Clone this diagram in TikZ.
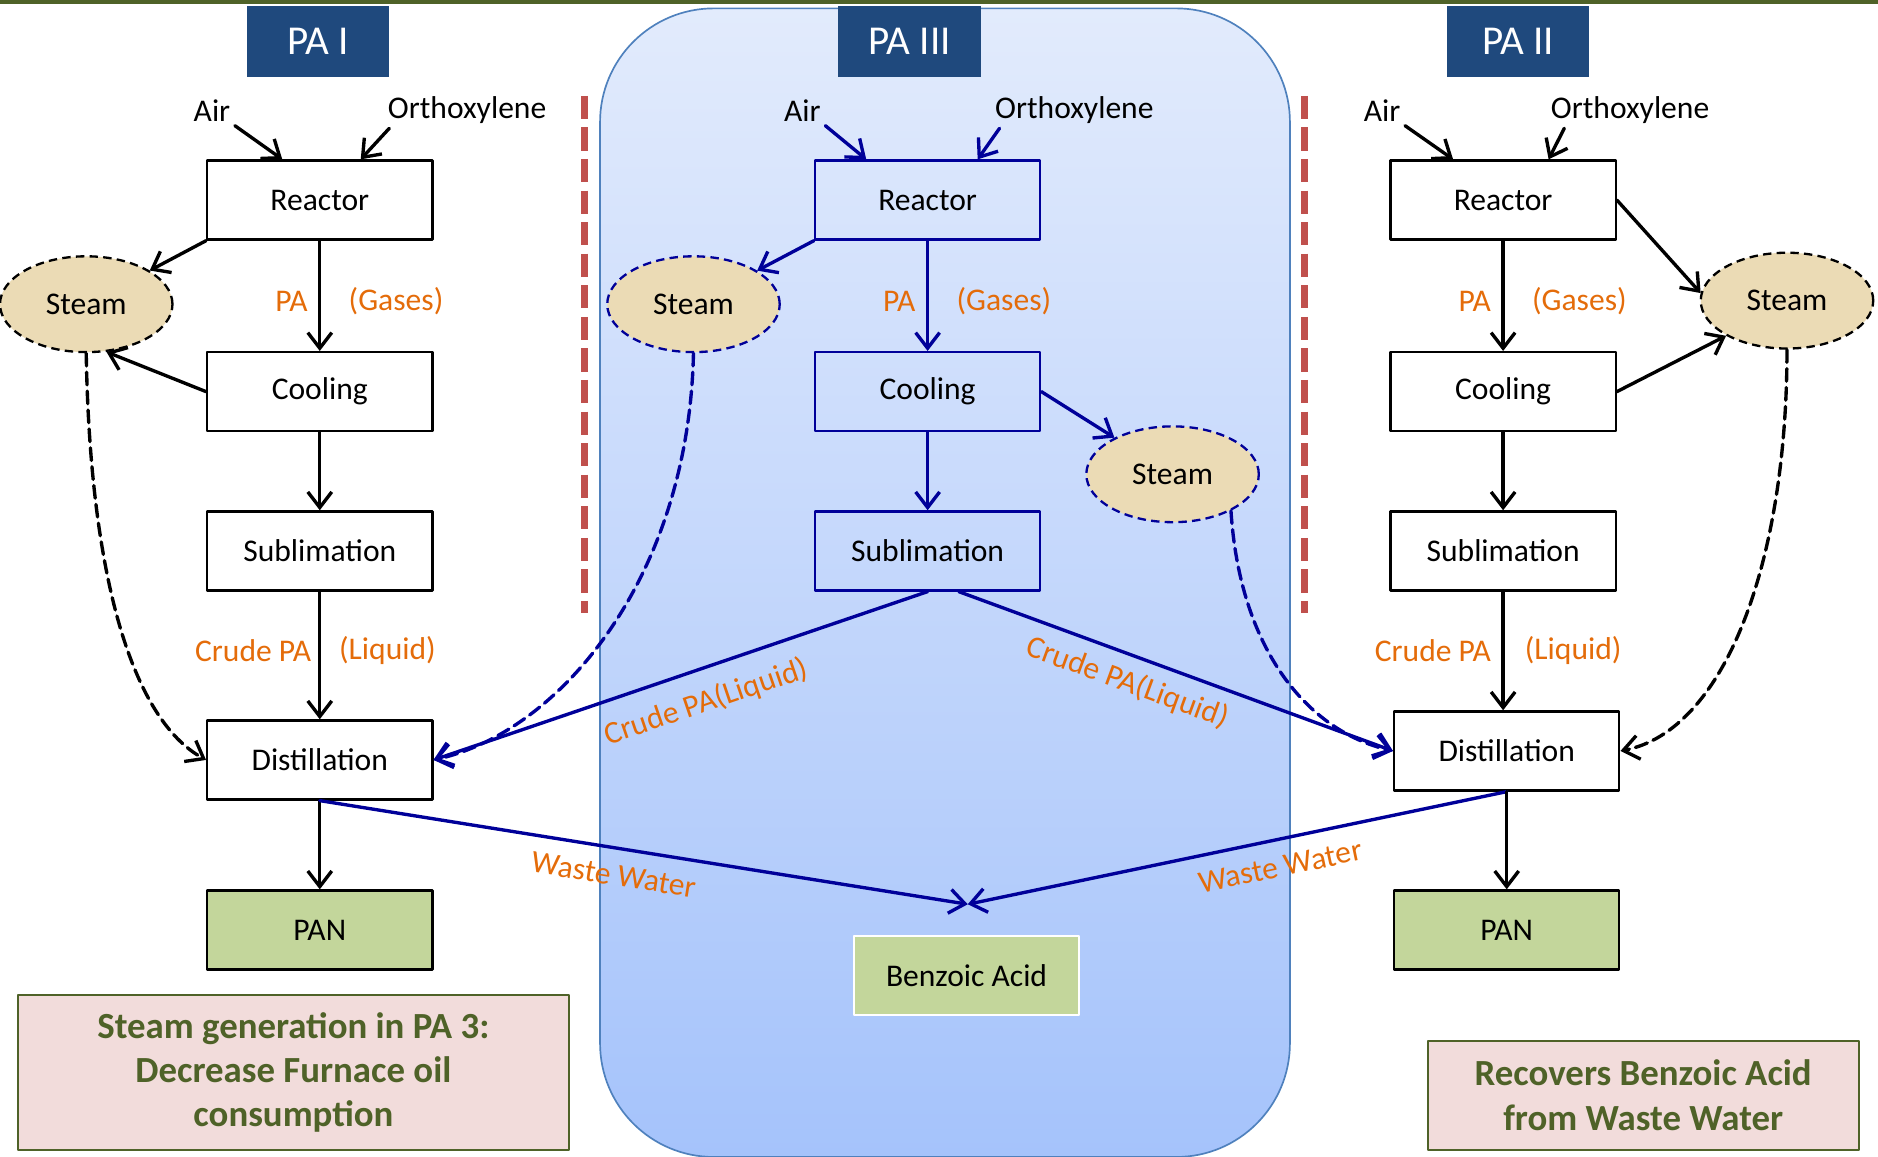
\documentclass[tikz,border=0pt]{standalone}
\usepackage{fontspec}
\setmainfont{Carlito}
\usetikzlibrary{arrows.meta,calc,shapes.geometric}
\definecolor{paNavy}{HTML}{000099}
\definecolor{paTitle}{HTML}{1F497D}
\definecolor{paOrange}{HTML}{E46C0A}
\definecolor{paOlive}{HTML}{4F6228}
\definecolor{paGreen}{HTML}{C3D69B}
\definecolor{paPink}{HTML}{F2DCDB}
\definecolor{paSteam}{HTML}{EBDBB5}
\definecolor{paRed}{HTML}{C0504D}
\definecolor{paFrame}{HTML}{4F81BD}
\definecolor{paTop}{HTML}{E2EBFC}
\definecolor{paBottom}{HTML}{A5C3FB}
\tikzset{
  pa diagram/.style={x=0.2mm, y=-0.2mm, font=\fontsize{15}{18}\selectfont,
    line join=round},
  pa box/.style={draw=black, fill=white, line width=1.1pt,
    minimum width=37.6mm, minimum height=13.2mm, inner sep=0pt},
  pa blue box/.style={pa box, draw=paNavy, fill=none},
  pa product/.style={pa box, fill=paGreen},
  pa title/.style={fill=paTitle, text=white, minimum width=23.8mm,
    minimum height=11.8mm, font=\fontsize{19.5}{22}\selectfont},
  pa text/.style={inner sep=2pt},
  pa steam/.style={ellipse, draw=black, dash pattern=on 4pt off 2.5pt,
    fill=paSteam, line width=1.1pt, minimum width=28.8mm,
    minimum height=16mm, inner sep=0pt},
  pa blue steam/.style={pa steam, draw=paNavy},
  pa arrow/.style={-{Straight Barb[length=2.6mm,width=4mm]},
    line width=1.6pt, line cap=round},
  pa blue arrow/.style={pa arrow, draw=paNavy},
  pa return/.style={pa arrow, dash pattern=on 6pt off 3pt},
  pa blue return/.style={pa blue arrow, dash pattern=on 6pt off 3pt},
  pa label/.style={text=paOrange, inner sep=1pt},
  pa divider/.style={draw=paRed, line width=3.4pt, dash pattern=on 11pt off 4pt},
  pa note/.style={draw=paOlive, fill=paPink, line width=0.9pt, text=paOlive,
    font=\fontsize{17.5}{21}\selectfont\bfseries, align=center}
}
\begin{document}
\begin{tikzpicture}[pa diagram]
\useasboundingbox (0,0) rectangle (1568,966);
\fill[paOlive] (0,0) rectangle (1568,3);
% PA III panel and dividers
\draw[draw=paFrame, line width=0.8pt, top color=paTop, bottom color=paBottom,
  rounded corners=19mm] (501,7) rectangle (1077,966);
\draw[pa divider] (488,80) -- (488,512);
\draw[pa divider] (1089,80) -- (1089,512);

% PA I
\node[pa title] (t1) at (265.5,34.5) {PA I};
\node[pa text] (air1) at (177,92) {Air};
\node[pa text] (ox1) at (390,92) {Orthoxylene};
\node[pa box] (r1) at (267,167) {Reactor};
\node[pa steam] (s1) at (72,254) {Steam};
\node[pa box] (c1) at (267,327) {Cooling};
\node[pa box] (u1) at (267,460) {Sublimation};
\node[pa box] (d1) at (267,634.5) {Distillation};
\node[pa product] (p1) at (267,776.5) {PAN};
\node[pa note, minimum width=92mm, minimum height=25.8mm] (n1) at (245,895.5)
  {Steam generation in PA 3:\\Decrease Furnace oil\\consumption};

% PA III
\node[pa title] (t3) at (759.5,34.5) {PA III};
\node[pa text] (air3) at (670,92) {Air};
\node[pa text] (ox3) at (897,92) {Orthoxylene};
\node[pa blue box] (r3) at (774.5,167) {Reactor};
\node[pa blue steam] (s3) at (579,254) {Steam};
\node[pa blue box] (c3) at (774.5,327) {Cooling};
\node[pa blue steam] (v3) at (979,396) {Steam};
\node[pa blue box] (u3) at (774.5,460) {Sublimation};
\node[pa product, draw=white] (b3) at (807,814.5) {Benzoic Acid};
\coordinate (w3) at (808,755);

% PA II
\node[pa title] (t2) at (1267.5,34.5) {PA II};
\node[pa text] (air2) at (1154,92) {Air};
\node[pa text] (ox2) at (1361,92) {Orthoxylene};
\node[pa box] (r2) at (1255,167) {Reactor};
\node[pa steam] (s2) at (1492,251) {Steam};
\node[pa box] (c2) at (1255,327) {Cooling};
\node[pa box] (u2) at (1255,460) {Sublimation};
\node[pa box] (d2) at (1258,627) {Distillation};
\node[pa product] (p2) at (1258,776.5) {PAN};
\node[pa note, minimum width=72mm, minimum height=18.2mm] (n2) at (1372,914.5)
  {Recovers Benzoic Acid\\from Waste Water};

% PA I flows
\draw[pa arrow] (air1.south east) -- ($(r1.north west)!0.335!(r1.north east)$);
\draw[pa arrow] ([xshift=1mm]ox1.south west) -- ($(r1.north west)!0.68!(r1.north east)$);
\draw[pa arrow] (r1.south west) -- (s1);
\draw[pa arrow] (r1) -- (c1)
  node[pa label, pos=0.55, left=1.4mm] {PA}
  node[pa label, pos=0.55, right=4.2mm] {(Gases)};
\draw[pa arrow] (c1.west) -- (s1.-67);
\draw[pa arrow] (c1) -- (u1);
\draw[pa arrow] (u1) -- (d1)
  node[pa label, pos=0.46, left=0.8mm] {Crude PA}
  node[pa label, pos=0.46, right=2.6mm] {(Liquid)};
\draw[pa return] (s1.south) .. controls (75,480) and (110,600) .. (d1.west);
\draw[pa arrow] (d1) -- (p1);

% PA III flows
\draw[pa blue arrow] (air3.south east) -- ($(r3.north west)!0.23!(r3.north east)$);
\draw[pa blue arrow] ([xshift=1.5mm]ox3.south west) -- ($(r3.north west)!0.72!(r3.north east)$);
\draw[pa blue arrow] (r3.south west) -- (s3);
\draw[pa blue arrow] (r3) -- (c3)
  node[pa label, pos=0.55, left=1.4mm] {PA}
  node[pa label, pos=0.55, right=4.2mm] {(Gases)};
\draw[pa blue arrow] (c3.east) -- (v3);
\draw[pa blue arrow] (c3) -- (u3);
\draw[pa blue arrow] (u3.south) -- (d1.east)
  node[pa label, sloped, below=2.6mm, pos=0.47] {Crude PA(Liquid)};
\draw[pa blue arrow] ($(u3.south)+(26,0)$) -- (d2.west)
  node[pa label, sloped, below=1.6mm, pos=0.41] {Crude PA(Liquid)};
\draw[pa blue return] (s3.south) .. controls (575,480) and (470,610) .. (d1.east);
\draw[pa blue return] (v3.-32) .. controls (1035,540) and (1090,610) .. (d2.west);
\draw[pa blue arrow] (d1.south) -- (w3)
  node[pa label, sloped, below=2.2mm, pos=0.46] {Waste Water};
\draw[pa blue arrow] (d2.south) -- (w3)
  node[pa label, sloped, below=2.2mm, pos=0.43] {Waste Water};

% PA II flows
\draw[pa arrow] (air2.south east) -- ($(r2.north west)!0.28!(r2.north east)$);
\draw[pa arrow] ([xshift=3mm]ox2.south west) -- ($(r2.north west)!0.70!(r2.north east)$);
\draw[pa arrow] (r2.east) -- (s2.175);
\draw[pa arrow] (r2) -- (c2)
  node[pa label, pos=0.55, left=1.4mm] {PA}
  node[pa label, pos=0.55, right=4.2mm] {(Gases)};
\draw[pa arrow] (c2.east) -- (s2.-150);
\draw[pa arrow] (c2) -- (u2);
\draw[pa arrow] (u2.south) -- (u2.south |- d2.north)
  node[pa label, pos=0.5, left=1.4mm] {Crude PA}
  node[pa label, pos=0.5, right=3mm] {(Liquid)};
\draw[pa return] (s2.south) .. controls (1492,470) and (1440,610) .. (d2.east);
\draw[pa arrow] (d2) -- (p2);
\end{tikzpicture}
\end{document}
